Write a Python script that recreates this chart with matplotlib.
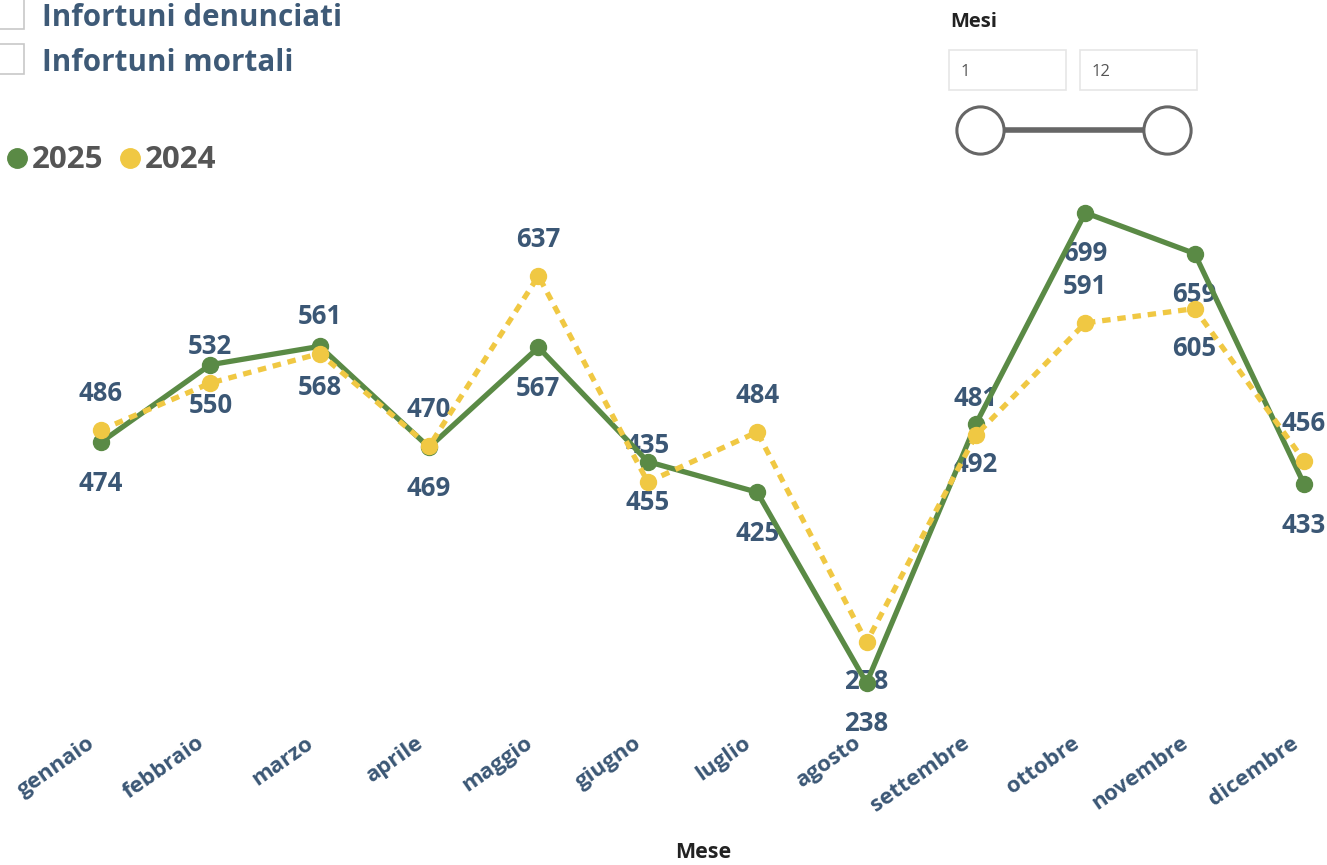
import matplotlib
matplotlib.use('Agg')
import matplotlib.pyplot as plt
from matplotlib.patches import Rectangle
from matplotlib.transforms import ScaledTranslation

mesi = ['gennaio', 'febbraio', 'marzo', 'aprile', 'maggio', 'giugno',
        'luglio', 'agosto', 'settembre', 'ottobre', 'novembre', 'dicembre']
val_2025 = [474, 550, 568, 469, 567, 455, 425, 238, 492, 699, 659, 433]
val_2024 = [486, 532, 561, 470, 637, 435, 484, 278, 481, 591, 605, 456]
# where the 2024 labels sit (2025 labels always go below)
pos_2024 = ['up', 'up', 'up', 'up', 'up', 'up', 'up', 'down', 'up', 'up', 'down', 'up']

verde = '#5A8A45'
giallo = '#F0C843'
blu = '#3B5775'
fonte = 'Open Sans'

fig = plt.figure(figsize=(13.27, 8.65), dpi=100)
W, H = 1327, 865

ax = fig.add_axes([0, 1 - 720 / H, 1, 530 / H])
x = list(range(len(mesi)))
ax.plot(x, val_2025, color=verde, lw=3.8, marker='o', ms=11.5, zorder=3)
ax.plot(x, val_2024, color=giallo, lw=3.8, ls=(0, (1.6, 1.3)), marker='o', ms=11.5, zorder=4)

for i in x:
    ax.annotate(str(val_2025[i]), (i, val_2025[i]), xytext=(0, -29.5), textcoords='offset points',
                ha='center', va='center', fontsize=18.5, fontweight='bold', color=blu,
                family=fonte, zorder=2)
    dy = 26.5 if pos_2024[i] == 'up' else -28.5
    ax.annotate(str(val_2024[i]), (i, val_2024[i]), xytext=(0, dy), textcoords='offset points',
                ha='center', va='center', fontsize=18.5, fontweight='bold', color=blu,
                family=fonte, zorder=2)

ax.set_xlim(-0.923, 11.21)
ax.set_ylim(201.7, 721.3)
ax.set_yticks([])
ax.set_xticks(x)
ax.set_xticklabels(mesi, rotation=35, ha='right', rotation_mode='anchor',
                   fontsize=16, fontweight='bold', color=blu, family=fonte)
ax.tick_params(axis='x', length=0, pad=9)
sposta = ScaledTranslation(-14 / 100, 0, fig.dpi_scale_trans)
for t in ax.get_xticklabels():
    t.set_transform(t.get_transform() + sposta)
for s in ax.spines.values():
    s.set_visible(False)
ax.patch.set_alpha(0)

fig.text(703 / W, 1 - 853 / H, 'Mese', ha='center', va='center', fontsize=15.5,
         fontweight='bold', color='#222222', family=fonte)

# legend
for cx, tx, col, lab in [(17, 32, verde, '2025'), (130, 145, giallo, '2024')]:
    fig.add_artist(plt.Line2D([cx / W], [1 - 158 / H], transform=fig.transFigure,
                              marker='o', ms=14, mfc=col, mec=col, lw=0))
    fig.text(tx / W, 1 - 160 / H, lab, ha='left', va='center', fontsize=22.5,
             fontweight='bold', color='#555555', family=fonte)

# checkboxes
for yy, txt in [(14, 'Infortuni denunciati'), (59, 'Infortuni mortali')]:
    fig.add_artist(Rectangle((-6 / W, 1 - (yy + 15) / H), 30 / W, 30 / H,
                             transform=fig.transFigure, fill=False, ec='#c8c8c8', lw=1.2))
    fig.text(42 / W, 1 - (yy + 4) / H, txt, ha='left', va='center', fontsize=21.3,
             fontweight='bold', color='#3E5A77', family=fonte)

# slicer
fig.text(950 / W, 1 - 22 / H, 'Mesi', ha='left', va='center', fontsize=14.5,
         fontweight='bold', color='#222222', family=fonte)
for x0, lab in [(949, '1'), (1080, '12')]:
    fig.add_artist(Rectangle((x0 / W, 1 - 90 / H), 117 / W, 40 / H,
                             transform=fig.transFigure, fill=False, ec='#e6e6e6', lw=1.2))
    fig.text((x0 + 12) / W, 1 - 72 / H, lab, ha='left', va='center', fontsize=12,
             color='#555555', family=fonte)
fig.add_artist(plt.Line2D([980 / W, 1167 / W], [1 - 130 / H, 1 - 130 / H],
                          transform=fig.transFigure, color='#666666', lw=4))
for cx in [980, 1167]:
    fig.add_artist(plt.Line2D([cx / W], [1 - 130 / H], transform=fig.transFigure,
                              marker='o', ms=34, mfc='white', mec='#666666', mew=2.2))

fig.savefig('out.png', dpi=100)
